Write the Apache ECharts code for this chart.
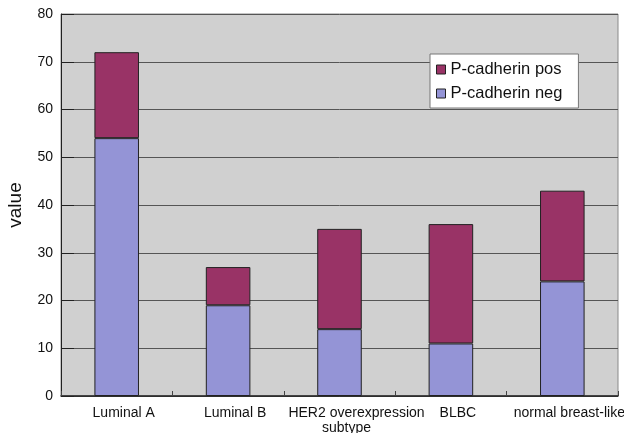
<!DOCTYPE html>
<html>
<head>
<meta charset="utf-8">
<script src="https://cdn.jsdelivr.net/npm/echarts@6/dist/echarts.min.js"></script>
<style>
html,body{margin:0;padding:0;background:#fff;}
#chart{width:624px;height:433px;}
</style>
</head>
<body>
<div id="chart"></div>
<script>
// Breast cancer subtypes, counts split by P-cadherin status
const categories = ['Luminal A', 'Luminal B', 'HER2 overexpression\nsubtype', 'BLBC', 'normal breast-like'];
const cadherinNeg = [54, 19, 14, 11, 24];
const cadherinPos = [18, 8, 21, 25, 19];
const yTicks = [0, 10, 20, 30, 40, 50, 60, 70, 80];

const FONT = '"Liberation Sans", Arial, sans-serif';
const chart = echarts.init(document.getElementById('chart'), null, { renderer: 'canvas' });

// two-line labels: the first line sits a little right of the second
function categoryLabel(value) {
  const lines = value.split('\n');
  if (lines.length === 1) return '{t|' + value + '}';
  return '{first|' + lines[0] + '}\n{t|' + lines[1] + '}';
}

chart.setOption({
  animation: false,
  backgroundColor: '#ffffff',
  textStyle: { fontFamily: FONT },
  grid: {
    left: 61, right: 6, top: 14, bottom: 37,
    outerBoundsMode: 'none',
    containLabel: false,
    show: true, backgroundColor: '#d0d0d0', borderColor: '#8a8a8a', borderWidth: 1
  },
  legend: {
    data: ['P-cadherin pos', 'P-cadherin neg'],
    orient: 'vertical',
    left: 430, top: 54,
    backgroundColor: '#ffffff',
    borderColor: '#777777', borderWidth: 1,
    padding: [7, 16, 6, 6],
    itemGap: 7,
    itemWidth: 9, itemHeight: 9,
    icon: 'rect',
    textStyle: { fontFamily: FONT, fontSize: 16.5, color: '#111' },
    itemStyle: { borderColor: '#222', borderWidth: 1 }
  },
  xAxis: {
    type: 'category',
    data: categories,
    axisLine: { lineStyle: { color: '#222', width: 1.5 } },
    axisTick: { show: true, inside: true, length: 5, lineStyle: { color: '#444' } },
    axisLabel: {
      color: '#111', fontSize: 14, fontFamily: FONT, margin: 10, lineHeight: 15,
      interval: 0, hideOverlap: false,
      formatter: categoryLabel,
      rich: {
        t: { fontSize: 14, fontFamily: FONT, color: '#111', lineHeight: 15, padding: [0, 0, 0, 14] },
        first: { fontSize: 14, fontFamily: FONT, color: '#111', lineHeight: 15, padding: [0, 0, 0, 34] }
      }
    },
    splitLine: { show: false }
  },
  yAxis: {
    type: 'value',
    min: yTicks[0], max: yTicks[yTicks.length - 1], interval: 10,
    name: 'value',
    nameLocation: 'middle',
    nameGap: 36,
    nameRotate: 90,
    nameTextStyle: { fontSize: 19, color: '#111', fontFamily: FONT },
    axisLine: { show: true, lineStyle: { color: '#222', width: 1 } },
    axisTick: { show: true, inside: true, length: 13, lineStyle: { color: '#222' } },
    axisLabel: { color: '#111', fontSize: 14, fontFamily: FONT, margin: 8 },
    splitLine: { show: true, lineStyle: { color: '#555555', width: 1 } }
  },
  series: [
    {
      name: 'P-cadherin neg',
      type: 'bar',
      stack: 'total',
      data: cadherinNeg,
      barWidth: '40%',
      itemStyle: { color: '#9494d6', borderColor: '#222', borderWidth: 1 }
    },
    {
      name: 'P-cadherin pos',
      type: 'bar',
      stack: 'total',
      data: cadherinPos,
      barWidth: '40%',
      itemStyle: { color: '#993366', borderColor: '#222', borderWidth: 1 }
    }
  ]
});
</script>
</body>
</html>
